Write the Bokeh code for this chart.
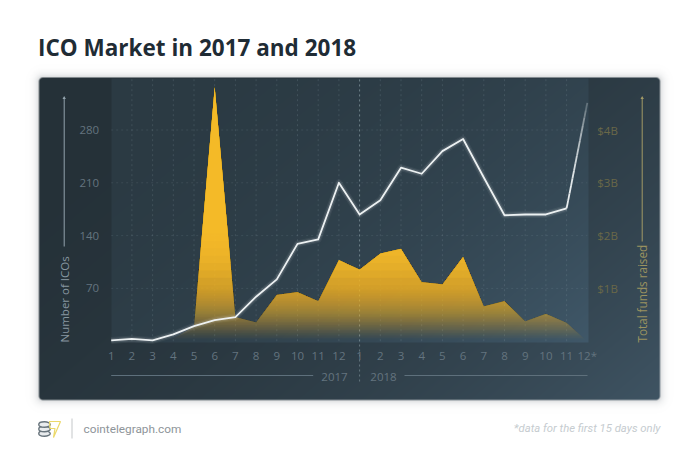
import numpy as np
from bokeh.plotting import figure
from bokeh.models import Range1d, LinearAxis, FixedTicker, Label
from bokeh.core.properties import value
from bokeh.embed import file_html
from bokeh.resources import INLINE

# ---- data
month_labels = ["1","2","3","4","5","6","7","8","9","10","11","12",
                "1","2","3","4","5","6","7","8","9","10","11","12*"]
ico_counts = [1, 3, 1, 9, 20, 28, 32, 59, 82, 129, 135, 210,
              168, 187, 230, 222, 252, 268, 217, 167, 168, 168, 176, 316]
funds_billions = [0.0, 0.0, 0.0, 0.05, 0.28, 4.82, 0.46, 0.36, 0.88, 0.93, 0.76, 1.54,
                  1.36, 1.66, 1.75, 1.12, 1.08, 1.60, 0.66, 0.76, 0.38, 0.52, 0.35, 0.0]
ico_ticks = [70, 140, 210, 280]
fund_ticks = [1, 2, 3, 4]
fund_tick_labels = {1: "$1B", 2: "$2B", 3: "$3B", 4: "$4B"}
title_text = "ICO Market in 2017 and 2018"

# ---- layout (page pixels)
W, H = 682, 456
OFF = 0
X0, DX = 110.7, 20.7      # page x of the first month and step per month
Y0, K = 340.7, 52.8 / 70  # page y of zero and px per ICO
K_F = 52.8                # px per $1B
xs = np.arange(len(month_labels), dtype=float)

def dx(px):  # page px -> data x
    return (px - X0) / DX
def dy(py):  # page py -> data y
    return (Y0 - py) / K

x_start, x_end = dx(OFF), dx(OFF + W)
y_start, y_end = dy(OFF + H), dy(OFF)

p = figure(width=W, height=H, output_backend="svg", toolbar_location=None,
           x_range=Range1d(x_start, x_end), y_range=Range1d(y_start, y_end),
           min_border=0, min_border_left=0, min_border_right=0, min_border_top=0, min_border_bottom=0,
           x_axis_location=None, y_axis_location=None)
p.outline_line_color = None
p.background_fill_color = "white"
p.border_fill_color = "white"
p.grid.visible = False
p.extra_y_ranges = {"funds": Range1d(y_start * K / K_F, y_end * K / K_F)}

# ---- panel picture with gradient, rounded corners and soft shadow
ix0, ix1, iy0, iy1 = 20, 680, 60, 420
gx, gy = np.meshgrid(np.arange(ix0, ix1) + .5, np.arange(iy0, iy1) + .5)
PL, PR, PT, PB, R = 38.5, 659.5, 77.0, 399.5, 4.0
def sdf(x, y, l, r, t, b, rad):
    qx = np.abs(x - (l + r) / 2) - (r - l) / 2 + rad
    qy = np.abs(y - (t + b) / 2) - (b - t) / 2 + rad
    return np.hypot(np.maximum(qx, 0), np.maximum(qy, 0)) + np.minimum(np.maximum(qx, qy), 0) - rad
d = sdf(gx, gy, PL, PR, PT, PB, R)
t = np.clip(((gx - PL) / (PR - PL) * .62 + (gy - PT) / (PB - PT) * .38), 0, 1)
c_a, c_b = np.array([37, 49, 56.]), np.array([63, 84, 99.])
t2 = np.clip(t, 0, 1) ** 2.2
panel = c_a[None, None, :] + (c_b - c_a)[None, None, :] * t2[..., None]
inner = (gx >= X0) & (gx <= 587.5) & (gy >= 78) & (gy <= 342)
i_a, i_b = np.array([43, 58, 67.]), np.array([64, 88, 105.])
ti = np.clip((gx - X0) / (587.5 - X0) * .6 + (gy - 78) / 264 * .4, 0, 1) ** 2.2
panel_in = i_a[None, None, :] + (i_b - i_a)[None, None, :] * ti[..., None]
rgb = np.where(inner[..., None], panel_in, panel)
shadow = 0.22 * np.exp(-np.maximum(d - 0, 0) / 3.5)
cover = np.clip(0.5 - d, 0, 1)
a = cover + (1 - cover) * shadow
out = (rgb * cover[..., None] + np.array([70, 80, 88.]) * ((1 - cover) * shadow)[..., None]) / np.maximum(a, 1e-4)[..., None]
img = np.zeros(gx.shape, dtype=np.uint32)
v = img.view(dtype=np.uint8).reshape(gx.shape + (4,))
v[..., :3] = np.clip(out, 0, 255).astype(np.uint8)
v[..., 3] = np.clip(a * 255, 0, 255).astype(np.uint8)
p.image_rgba(image=[np.flipud(img)], x=dx(ix0), y=dy(iy1),
             dw=(ix1 - ix0) / DX, dh=(iy1 - iy0) / K, level="underlay")

# ---- dotted grid, drawn from the ticks
inner_top = dy(78)
DOT = value([2, 3])
p.segment(x0=xs[1:-1], y0=np.zeros(len(xs) - 2), x1=xs[1:-1], y1=np.full(len(xs) - 2, inner_top),
          line_color="#8fa3ae", line_alpha=.2, line_width=1, line_dash=DOT)
p.segment(x0=np.zeros(len(ico_ticks)), y0=ico_ticks, x1=np.full(len(ico_ticks), xs[-1]), y1=ico_ticks,
          line_color="#8fa3ae", line_alpha=.16, line_width=1, line_dash=DOT)
yr = 12.0  # index of January 2018
p.segment(x0=[yr], y0=[dy(381)], x1=[yr], y1=[inner_top],
          line_color="#a9bac4", line_alpha=.45, line_width=1, line_dash=DOT)

# ---- funds area: stacked translucent layers give the vertical fade
f = np.array(funds_billions)
def clipped(level):
    ox, oy = [], []
    for i in range(len(xs)):
        if i:
            a0, a1 = f[i - 1], f[i]
            if (a0 - level) * (a1 - level) < 0:
                ox.append(xs[i - 1] + (level - a0) / (a1 - a0))
                oy.append(level)
        ox.append(xs[i]); oy.append(max(f[i], level))
    return np.array(ox), np.array(oy)
levels = np.concatenate([np.linspace(0.0, 1.0, 34), np.linspace(1.06, 2.6, 12)])
opac = 1 - np.exp(-(levels / 0.66) ** 1.25)
opac = np.minimum(opac, 0.985)
prev = 0.0
for lv, o in zip(levels, opac):
    al = 1 - (1 - o) / (1 - prev)
    prev = o
    ox, oy = clipped(lv)
    p.varea(x=ox, y1=np.full(len(ox), lv), y2=oy, fill_color="#f8bd2a", fill_alpha=float(al),
            y_range_name="funds")

# ---- ICO line with a soft glow; the last rise fades out
ys = np.array(ico_counts, dtype=float)
for w, al in ((7, .05), (4.5, .10)):
    p.line(xs[:-1], ys[:-1], line_color="#ffffff", line_width=w, line_alpha=al, line_join="round")
p.line(xs[:-1], ys[:-1], line_color="#f2f6f7", line_width=1.8, line_alpha=.97, line_join="round")
fr = np.linspace(0, 1, 15)
sx = xs[-2] + fr * (xs[-1] - xs[-2])
sy = ys[-2] + fr * (ys[-1] - ys[-2])
for j in range(len(fr) - 1):
    p.line(sx[j:j + 2], sy[j:j + 2], line_color="#f2f6f7", line_width=1.8,
           line_alpha=float(.95 - .8 * fr[j] ** 2))

# ---- axes placed inside the frame
LAB = "Open Sans"
ax_b = LinearAxis(ticker=FixedTicker(ticks=list(xs)), fixed_location=0,
                  major_label_overrides={int(i): s for i, s in enumerate(month_labels)})
ax_l = LinearAxis(ticker=FixedTicker(ticks=ico_ticks), fixed_location=0)
ax_r = LinearAxis(y_range_name="funds", ticker=FixedTicker(ticks=fund_ticks), fixed_location=xs[-1],
                  major_label_overrides=fund_tick_labels)
for ax, side, col, so in ((ax_b, "below", "#64747f", 1), (ax_l, "left", "#64747f", 6), (ax_r, "right", "#6a6848", 4)):
    ax.axis_line_color = None
    ax.major_tick_line_color = None
    ax.minor_tick_line_color = None
    ax.major_label_text_font = LAB
    ax.major_label_text_font_size = "11.5px"
    ax.major_label_text_color = col
    ax.major_label_standoff = so
    p.add_layout(ax, side)

# ---- decorative rules and arrows
def rule(x0, y0, x1, y1, color, alpha=1.0, width=1.0):
    p.line([dx(x0), dx(x1)], [dy(y0), dy(y1)], line_color=color, line_alpha=alpha, line_width=width)
rule(63.7, 246, 63.7, 97, "#93a3ad")
p.patch([dx(62), dx(65.4), dx(63.7)], [dy(98.5), dy(98.5), dy(95.5)], fill_color="#93a3ad", line_color=None)
rule(641.7, 241, 641.7, 97, "#a39a66")
p.patch([dx(640), dx(643.4), dx(641.7)], [dy(98.5), dy(98.5), dy(95.5)], fill_color="#a39a66", line_color=None)
rule(110.7, 375, 312.7, 375, "#5e707c")
rule(404, 375, 587, 375, "#5e707c")
rule(71.5, 418, 71.5, 438, "#c4c7c9")

# ---- free texts
def text(s, x, y, size, color, align="left", baseline="middle", angle=0, font=LAB, style="normal"):
    p.add_layout(Label(x=x - OFF, y=H - (y - OFF), x_units="screen", y_units="screen", text=s,
                       text_font=font, text_font_size=size, text_color=color, text_align=align,
                       text_baseline=baseline, angle=angle, angle_units="deg", text_font_style=style))
text(title_text, 37.5, 47, "22.5px", "#1f2c35", style="bold")
text("Number of ICOs", 64, 342, "11.5px", "#8796a0", angle=90)
text("Total funds raised", 641, 342, "11.7px", "#9a9260", angle=90)
text("2017", 334, 376, "11.5px", "#64747f", align="center")
text("2018", 383, 376, "11.5px", "#64747f", align="center")
text("cointelegraph.com", 83, 428, "11.8px", "#8e9499", font="Roboto")
text("*data for the first 15 days only", 660, 428, "11.3px", "#c6ccd0", align="right", font="Roboto", style="italic")

# ---- small logo
for cy in (433, 428.5, 424):
    p.ellipse(x=[dx(44)], y=[dy(cy)], width=11.5 / DX, height=5.5 / K, fill_color="#e9ecee",
              line_color="#69757d", line_width=1.4)
lx = [dx(49), dx(60), dx(53), dx(54.5), dx(49.5)]
ly = [dy(421), dy(421), dy(437), dy(428), dy(428)]
p.patch(lx, ly, fill_color="#ffffff", fill_alpha=0, line_color="#ecd96a", line_width=1.2)

open("out.html", "w").write(file_html(p, INLINE))
